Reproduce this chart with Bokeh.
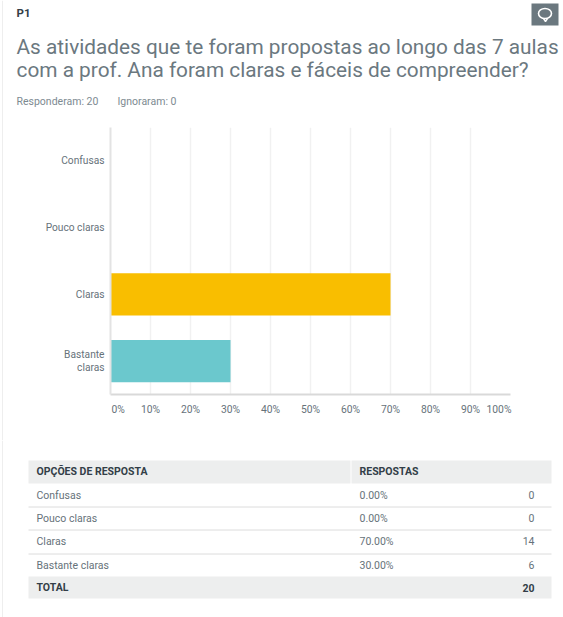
from bokeh.plotting import figure
from bokeh.layouts import column
from bokeh.models import FactorRange, Range1d, FixedTicker
from bokeh.core.properties import value
from bokeh.embed import file_html
from bokeh.resources import INLINE

FONT = "Roboto"
GREY = "#6b787f"
DARK = "#333e48"
TXT = "#66727a"
NB = "\u00a0"

question_id = "P1"
title_lines = ["As atividades que te foram propostas ao longo das 7 aulas",
               "com a prof. Ana foram claras e fáceis de compreender?"]
answered = "Responderam: 20"
skipped = "Ignoraram: 0"

categories = ["Confusas", "Pouco claras", "Claras", "Bastante\nclaras"]
table_labels = ["Confusas", "Pouco claras", "Claras", "Bastante claras"]
percents = [0, 0, 70, 30]
counts = [0, 0, 14, 6]
bar_colors = ["#f05b24", "#507cb6", "#f9be00", "#6bc8cd"]
x_ticks = [0, 10, 20, 30, 40, 50, 60, 70, 80, 90, 100]
header_labels = ["OPÇÕES DE RESPOSTA", "RESPOSTAS"]
total_label = "TOTAL"
total_count = 20

W = 563


def blank(height, y0, y1):
    f = figure(width=W, height=height, x_range=Range1d(0, W), y_range=Range1d(y1, y0),
               output_backend="svg", toolbar_location=None, min_border=0, frame_align=False,
               outline_line_color=None, x_axis_type=None, y_axis_type=None)
    f.xgrid.visible = False
    f.ygrid.visible = False
    return f


# Header
head = blank(120, 0, 120)
head.segment(x0=[2], y0=[0], x1=[2], y1=[120], line_color="#eeeeee", line_width=1)
head.text(x=[16], y=[12], text=[question_id], text_font=value(FONT), text_font_size="11.5px",
          text_font_style="bold", text_color=DARK, text_align="left", text_baseline="middle")
head.text(x=[16, 16], y=[46, 69], text=title_lines, text_font=value(FONT), text_font_size="20.8px",
          text_color=GREY, text_align="left", text_baseline="middle")
head.text(x=[16, 117], y=[101, 101], text=[answered, skipped], text_font=value(FONT),
          text_font_size="10.5px", text_color="#7d8a91", text_align="left", text_baseline="middle")
head.quad(left=[531], right=[558], top=[3], bottom=[25], fill_color=GREY, line_color=None)
head.ellipse(x=[544.5], y=[13], width=[13], height=[10], fill_color=None, line_color="white", line_width=1.6)
head.line(x=[543, 545, 547], y=[18, 21, 18], line_color="white", line_width=1.4)

# Chart
p = figure(width=W, height=320, y_range=FactorRange(factors=categories[::-1]),
           x_range=Range1d(0, 100), output_backend="svg", toolbar_location=None, frame_align=False,
           frame_width=400, frame_height=267, min_border_left=110, min_border_right=53,
           min_border_top=7, min_border_bottom=46, outline_line_color=None,
           border_fill_color=None,
           styles={"background": "linear-gradient(to right, transparent 2px, #eeeeee 2px, #eeeeee 3px, transparent 3px)"})
p.hbar(y=categories, right=percents, left=0, height=0.63, fill_color=bar_colors, line_color=None)
p.ygrid.visible = False
p.xgrid.ticker = FixedTicker(ticks=x_ticks)
p.xgrid.grid_line_color = "#f1f1f1"
p.xgrid.grid_line_width = 1.5
p.xgrid.level = "underlay"
p.xaxis.ticker = FixedTicker(ticks=x_ticks)
overrides = {t: f"{t}%" for t in x_ticks}
overrides[x_ticks[0]] = NB * 6 + f"{x_ticks[0]}%"
overrides[x_ticks[-1]] = f"{x_ticks[-1]}%" + NB * 9
p.xaxis.major_label_overrides = overrides
p.xaxis.axis_line_color = "#d9d9d9"
p.xaxis.axis_line_width = 2
p.yaxis.axis_line_color = "#e3e3e3"
p.yaxis.axis_line_width = 2
for ax in (p.xaxis, p.yaxis):
    ax.major_tick_line_color = None
    ax.minor_tick_line_color = None
    ax.major_tick_out = 0
    ax.major_tick_in = 0
    ax.major_label_text_font = FONT
    ax.major_label_text_color = TXT
p.xaxis.major_label_text_font_size = "10.3px"
p.yaxis.major_label_text_font_size = "10.2px"
p.xaxis.major_label_standoff = 8
p.yaxis.major_label_standoff = 6
p.yaxis.major_label_text_line_height = 1.2

# Table
tbl = blank(177, 440, 617)
tbl.segment(x0=[2], y0=[440], x1=[2], y1=[617], line_color="#eeeeee", line_width=1)
tbl.quad(left=[28, 351, 28], right=[350, 551, 551], top=[460, 460, 576], bottom=[483, 483, 598],
         fill_color="#edeeee", line_color=None)
row_y = [495, 518, 541, 565]
tbl.segment(x0=[28] * 3, x1=[551] * 3, y0=[506.5, 529.5, 553.5], y1=[506.5, 529.5, 553.5],
            line_color="#dcdcdc", line_width=1)
tf = dict(text_font=value(FONT), text_baseline="middle")
tbl.text(x=[36, 359], y=[471, 471], text=header_labels, text_font_size="10.5px",
         text_font_style="bold", text_color=DARK, text_align="left", **tf)
tbl.text(x=[36] * 4, y=row_y, text=table_labels, text_font_size="10.5px", text_color=TXT,
         text_align="left", **tf)
tbl.text(x=[359] * 4, y=row_y, text=[f"{v:.2f}%" for v in percents], text_font_size="10.5px",
         text_color=TXT, text_align="left", **tf)
tbl.text(x=[534] * 4, y=[r - 1 for r in row_y], text=[str(c) for c in counts], text_font_size="10.5px",
         text_color=TXT, text_align="right", **tf)
tbl.text(x=[36], y=[587], text=[total_label], text_font_size="10.5px", text_font_style="bold",
         text_color=DARK, text_align="left", **tf)
tbl.text(x=[534], y=[587], text=[str(total_count)], text_font_size="10.5px", text_font_style="bold",
         text_color=DARK, text_align="right", **tf)

page = column(head, p, tbl, spacing=0)
open("out.html", "w").write(file_html(page, INLINE))
